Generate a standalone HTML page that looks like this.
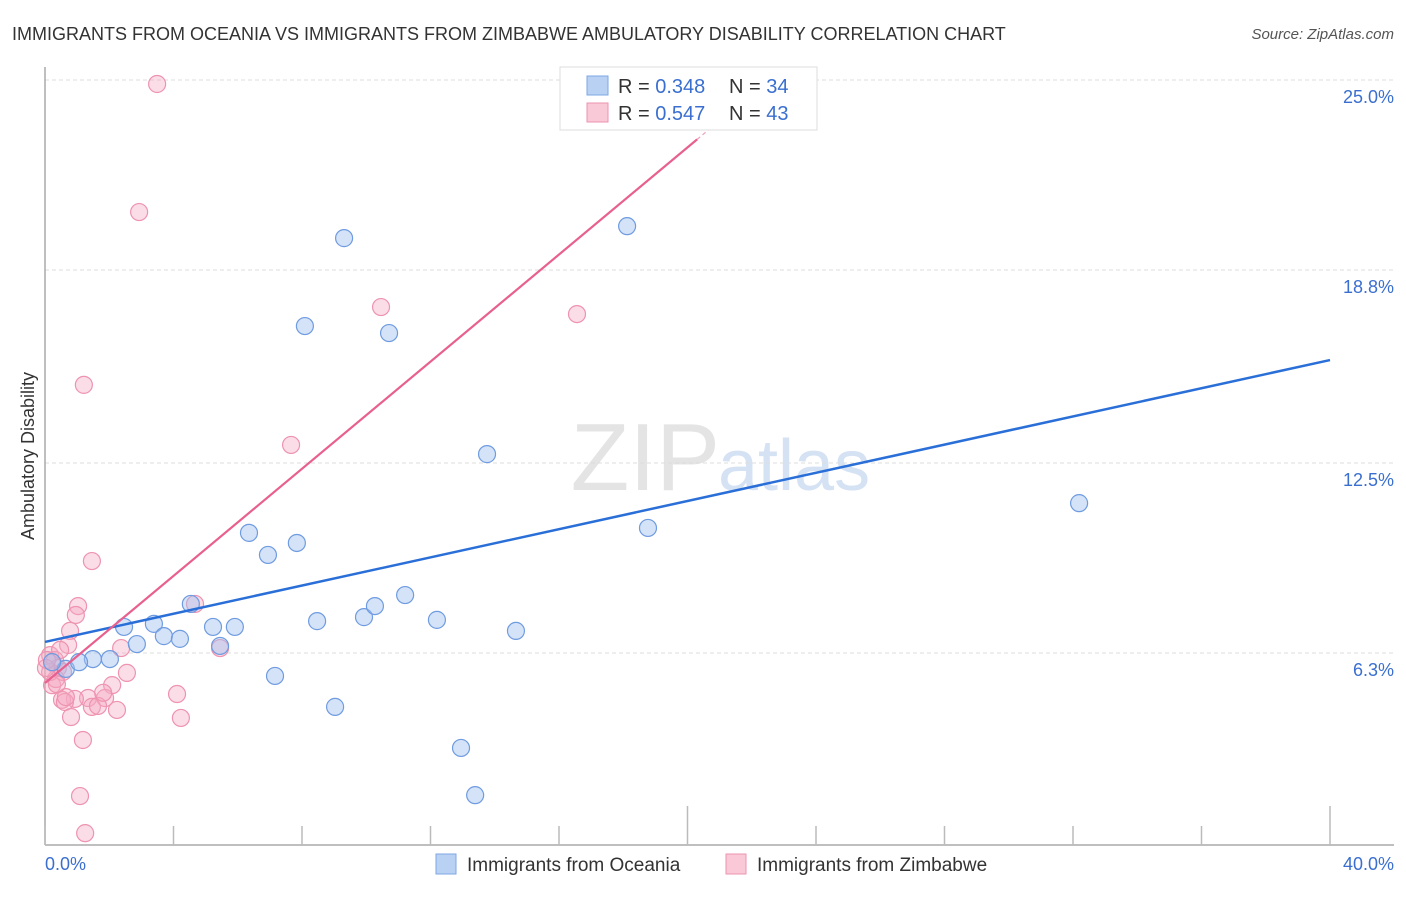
<!DOCTYPE html>
<html><head><meta charset="utf-8">
<style>
body{margin:0;background:#fff;font-family:"Liberation Sans",sans-serif;}
svg text{font-family:"Liberation Sans",sans-serif;}
</style></head>
<body>
<svg id="chart" width="1406" height="892" xmlns="http://www.w3.org/2000/svg">
<text x="12" y="40" font-size="18" fill="#333">IMMIGRANTS FROM OCEANIA VS IMMIGRANTS FROM ZIMBABWE AMBULATORY DISABILITY CORRELATION CHART</text>
<text x="1394" y="39" font-size="15" fill="#555" font-style="italic" text-anchor="end">Source: ZipAtlas.com</text>
<text x="720" y="490" font-size="96" fill="#e4e4e4" text-anchor="end" font-family="Liberation Serif">ZIP</text>
<text x="718" y="490" font-size="72" fill="#d5e2f4">atlas</text>
<g id="grid"></g>
<g id="axes"></g>
<g id="points"></g>
<g id="lines"></g>
<text transform="translate(34,456) rotate(-90)" font-size="18" fill="#333" text-anchor="middle">Ambulatory Disability</text>
<text x="45" y="870" font-size="18" fill="#3a6fd0">0.0%</text>
<text x="1394" y="870" font-size="18" fill="#3a6fd0" text-anchor="end">40.0%</text>
<g>
<rect x="560" y="67" width="257" height="63" fill="#fff" stroke="#ddd"/>
<rect x="587" y="76" width="21" height="19" fill="#b9d1f3" stroke="#7ea6e4"/>
<text x="618" y="93" font-size="20" fill="#333">R = <tspan fill="#3a6fd0">0.348</tspan><tspan x="729">N = </tspan><tspan fill="#3a6fd0">34</tspan></text>
<rect x="587" y="103" width="21" height="19" fill="#f9c9d7" stroke="#ee93b0"/>
<text x="618" y="120" font-size="20" fill="#333">R = <tspan fill="#3a6fd0">0.547</tspan><tspan x="729">N = </tspan><tspan fill="#3a6fd0">43</tspan></text>
</g>
<g>
<rect x="436" y="854" width="20" height="20" fill="#b9d1f3" stroke="#7ea6e4"/>
<text x="467" y="871" font-size="19" fill="#333">Immigrants from Oceania</text>
<rect x="726" y="854" width="20" height="20" fill="#f9c9d7" stroke="#ee93b0"/>
<text x="757" y="871" font-size="19" fill="#333">Immigrants from Zimbabwe</text>
</g>
</svg>
<script>
const yTicks=[25.0,18.8,12.5,6.3];
const yTickLabels=["25.0%","18.8%","12.5%","6.3%"];
const xTickVals=[0,4,8,12,16,20,24,28,32,36,40];
const oceaniaX=[0.65,1.49,2.02,1.06,2.46,3.39,3.70,4.20,2.86,4.54,5.23,5.91,5.45,6.35,6.94,7.84,7.16,8.09,8.47,9.03,9.31,9.93,10.27,10.71,11.21,12.20,12.95,13.39,13.76,14.66,18.12,18.77,32.19,0.22];
const oceaniaY=[5.78,6.10,6.10,6.00,7.15,7.25,6.85,6.76,6.59,7.90,7.15,7.15,6.53,10.22,9.50,9.89,5.55,16.97,7.34,4.54,19.84,7.47,7.83,16.74,8.19,7.38,3.20,1.66,12.79,7.02,20.23,10.38,11.19,6.0];
const zimX=[3.49,2.93,1.21,10.46,16.56,7.66,1.46,1.03,0.96,4.67,5.45,2.37,0.78,0.72,0.16,0.31,0.40,0.22,0.34,2.55,2.09,1.87,4.11,1.34,0.93,0.53,0.62,1.46,1.65,2.24,0.81,4.23,1.18,1.09,1.25,0.16,0.56,0.47,0.03,0.65,1.81,0.06,0.37];
const zimY=[24.87,20.69,15.05,17.59,17.36,13.09,9.30,7.83,7.54,7.90,6.46,6.46,7.02,6.56,6.23,6.07,5.81,5.25,5.45,5.65,5.25,4.83,4.96,4.83,4.80,4.77,4.70,4.54,4.57,4.44,4.21,4.18,3.46,1.63,0.42,5.68,5.68,6.40,5.81,4.86,5.0,6.07,5.28];
const oceaniaTrend=[6.66,15.86];
const zimTrend=[5.32,0.874];
const NS="http://www.w3.org/2000/svg";
function sx(v){return 45+v*32.125;}
function sy(v){return 80+(25-v)*30.64;}
function mk(tag,attrs,parent){const e=document.createElementNS(NS,tag);for(const k in attrs)e.setAttribute(k,attrs[k]);parent.appendChild(e);return e;}
const grid=document.getElementById('grid'),axes=document.getElementById('axes'),pts=document.getElementById('points'),lines=document.getElementById('lines');
yTicks.forEach((t,i)=>{
 const l=mk('line',{x1:45,x2:1394,y1:sy(t),y2:sy(t),stroke:'#ddd','stroke-dasharray':'4,3'},grid);
 
 
 const tx=mk('text',{x:1394,y:sy(t)+23,'font-size':18,fill:'#3a6fd0','text-anchor':'end'},grid);
 tx.textContent=yTickLabels[i];
 
 
});
const ya=mk('line',{x1:45,x2:45,y1:67,y2:845,stroke:'#aaa','stroke-width':1.5},axes);


const xa=mk('line',{x1:45,x2:1394,y1:845,y2:845,stroke:'#aaa','stroke-width':1.5},axes);


xTickVals.forEach(v=>{
 const long=(v===20||v===40);
 const t=mk('line',{x1:sx(v),x2:sx(v),y1:long?806:826,y2:845,stroke:'#bbb','stroke-width':1.5},axes);
 
 
});
function drawPts(X,Y,fill,stroke,name){
 X.forEach((x,i)=>{
  const c=mk('circle',{cx:sx(x),cy:sy(Y[i]),r:8.5,fill:fill,stroke:stroke,'stroke-width':1.2},pts);
  
  
 });
}
drawPts(zimX,zimY,'rgba(246,170,196,0.4)','#ee93b0','point-zimbabwe');
drawPts(oceaniaX,oceaniaY,'rgba(160,192,240,0.45)','#6f9be0','point-oceania');
const bl=mk('line',{x1:sx(0),y1:sy(oceaniaTrend[0]),x2:sx(40),y2:sy(oceaniaTrend[1]),stroke:'#2a6fd8','stroke-width':2.5},lines);


const xe=20.3;
const pl=mk('line',{x1:sx(0),y1:sy(zimTrend[0]),x2:sx(xe),y2:sy(zimTrend[0]+zimTrend[1]*xe),stroke:'#e8608f','stroke-width':2.2},lines);


const xe2=21.3;
const pd=mk('line',{x1:sx(xe),y1:sy(zimTrend[0]+zimTrend[1]*xe),x2:sx(xe2),y2:sy(zimTrend[0]+zimTrend[1]*xe2),stroke:'#f0a0bc','stroke-width':1.2,'stroke-dasharray':'4,3'},lines);


</script>
</body></html>
